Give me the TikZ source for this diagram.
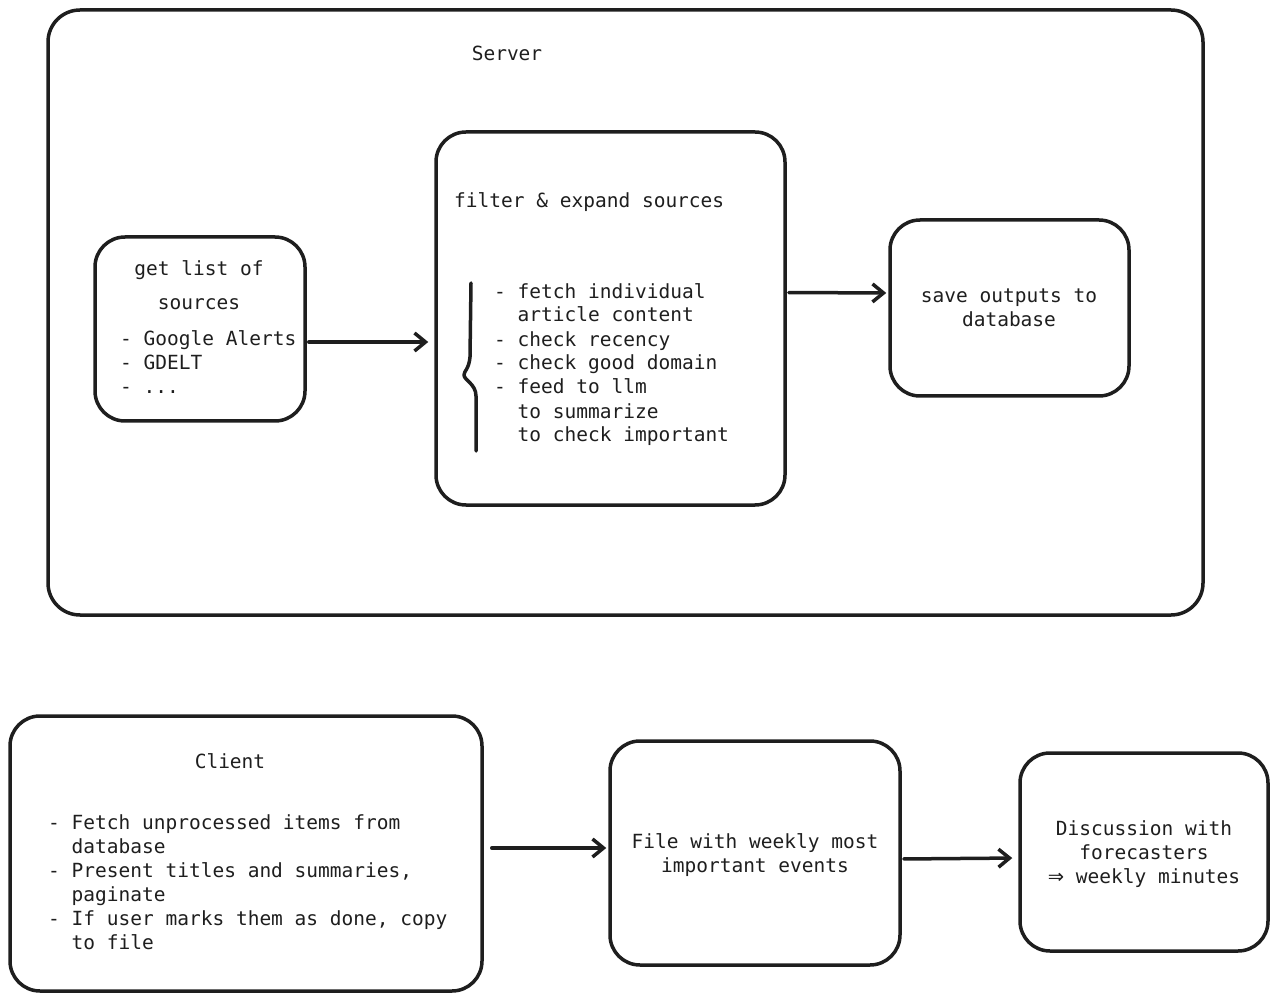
\documentclass[tikz,border=0pt]{standalone}
\usepackage{fontspec}
\setmainfont{DejaVu Sans Mono}
\newfontfamily\arrowfont{DejaVu Sans}
\usetikzlibrary{arrows.meta}
\definecolor{ink}{HTML}{1E1E1E}
\tikzset{
  box/.style={draw=ink, line width=3.5pt, rounded corners=30pt, inner sep=0pt},
  txt/.style={font=\fontsize{19.5}{24}\selectfont, text=ink, inner sep=0pt},
  arr/.style={draw=ink, line width=3.5pt, line cap=round, -{Straight Barb[length=11pt,width=18pt,line width=3.5pt]}}
}
\begin{document}
\begin{tikzpicture}[x=1pt,y=-1pt]
\useasboundingbox (0,0) rectangle (1278,1000);
% boxes
\node[box, rounded corners=32pt, minimum width=1155, minimum height=605] (server) at (625.5,312.5) {};
\node[box, minimum width=210, minimum height=184] (src) at (200,329) {};
\node[box, minimum width=349, minimum height=373] (filt) at (610.5,318.5) {};
\node[box, minimum width=239, minimum height=176] (save) at (1009.5,308) {};
\node[box, minimum width=472, minimum height=275] (client) at (246,853.5) {};
\node[box, minimum width=290, minimum height=224] (file) at (755,853) {};
\node[box, minimum width=248, minimum height=198] (disc) at (1144,852) {};
% texts (multi-line nodes: base anchor = last line's baseline)
\node[txt, anchor=base] (srvlbl) at (507,61) {Server};
\node[txt, align=center, anchor=base] (srctitle) at (199,310) {get list of\\[10pt]sources};
\node[txt, align=left, anchor=base west] (srclist) at (120,394) {- Google Alerts\\- GDELT\\- ...};
\node[txt, anchor=base west] (filttitle) at (454,208) {filter \& expand sources};
\node[txt, align=left, anchor=base west] (filtlist) at (494,442) {- fetch individual\\\phantom{- }article content\\- check recency\\- check good domain\\- feed to llm\\\phantom{- }to summarize\\\phantom{- }to check important};
\node[txt, align=center, anchor=base] (savetxt) at (1009,327) {save outputs to\\database};
\node[txt, anchor=base] (clienttitle) at (230,768) {Client};
\node[txt, align=left, anchor=base west] (clientlist) at (48,949) {- Fetch unprocessed items from\\\phantom{- }database\\- Present titles and summaries,\\\phantom{- }paginate\\- If user marks them as done, copy\\\phantom{- }to file};
\node[txt, align=center, anchor=base] (filetxt) at (755,872) {File with weekly most\\important events};
\node[txt, align=center, anchor=base] (disctxt) at (1144,883) {Discussion with\\forecasters\\{\arrowfont ⇒} weekly minutes};
% brace
\coordinate (bt) at (471,283);
\coordinate (bb) at (476,451);
\draw[ink, line width=3.5pt, line cap=round, line join=round] (bt) -- (470,357) .. controls (469,369) and (464,371) .. (464,375) .. controls (464,380) and (476,384) .. (476,396) -- (bb);
% arrows
\draw[arr, shorten <=2pt, shorten >=6pt] ([yshift=-13pt]src.east) -- ([yshift=-13pt]src.east -| filt.west);
\draw[arr, shorten <=2pt, shorten >=2pt] ([yshift=26pt]filt.east) -- ([yshift=15pt]save.west);
\draw[arr, shorten <=8pt, shorten >=2pt] ([yshift=5.5pt]client.east) -- ([yshift=5.5pt]client.east -| file.west);
\draw[arr, shorten <=2pt, shorten >=6pt] ([yshift=-6pt]file.east) -- ([yshift=-6pt]disc.west);
\end{tikzpicture}
\end{document}
